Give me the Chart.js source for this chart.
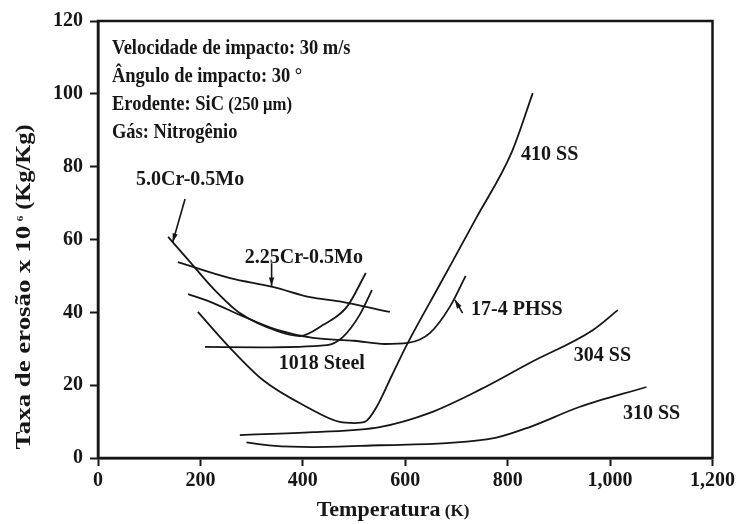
<!DOCTYPE html>
<html>
<head>
<meta charset="utf-8">
<script src="https://cdn.jsdelivr.net/npm/chart.js@4"></script>
<style>
    html, body { margin: 0; padding: 0; background: #fff; }
    #wrap { width: 738px; height: 524px; }
</style>
</head>
<body>
<div id="wrap"><canvas id="erosionChart" width="738" height="524"></canvas></div>
<script>
/**
 * Erosion rate vs. temperature for several steels.
 */

var xTicks = [0, 200, 400, 600, 800, 1000, 1200];
var yTicks = [0, 20, 40, 60, 80, 100, 120];

// temperature (K) / erosion rate (x10^6 Kg/Kg) per alloy
var cr5Temp = [137, 180, 224, 277, 355, 394, 439, 486, 523];
var cr5Rate = [60.7, 53.8, 46.7, 39.8, 34.6, 33.5, 36.5, 41.5, 50.8];

var cr225Temp = [156, 258, 341, 414, 472, 570];
var cr225Rate = [53.8, 49.4, 47.0, 44.2, 43.0, 40.1];

var ph174Temp = [176, 224, 277, 350, 420, 500, 560, 605, 648, 687, 718];
var ph174Rate = [45.0, 42.6, 39.3, 35.2, 33.0, 32.2, 31.3, 31.6, 34.3, 41.5, 50.0];

var st1018Temp = [209, 316, 447, 478, 511, 535];
var st1018Rate = [30.5, 30.4, 31.0, 33.2, 39.3, 46.1];

var ss410Temp = [195, 258, 322, 408, 472, 501, 521, 544, 575, 605, 667, 739, 808, 849];
var ss410Rate = [40.1, 30.2, 21.4, 14.0, 9.9, 9.6, 9.9, 14.0, 23.0, 31.6, 47.5, 66.0, 84.0, 100.2];

var ss304Temp = [277, 420, 550, 648, 745, 843, 966, 1015];
var ss304Rate = [6.3, 7.1, 8.5, 12.4, 18.7, 26.1, 35.1, 40.6];

var ss310Temp = [290, 340, 420, 550, 681, 778, 843, 940, 1071];
var ss310Rate = [4.3, 3.4, 3.0, 3.5, 4.1, 5.6, 8.5, 14.0, 19.5];

// curve labels: text, temperature, rate (label centre)
var curveLabels = [
    ['5.0Cr-0.5Mo', 180, 76.3],
    ['2.25Cr-0.5Mo', 402, 54.9],
    ['1018 Steel', 437, 25.8],
    ['410 SS', 882, 83.2],
    ['17-4 PHSS', 818, 40.6],
    ['304 SS', 985, 28.0],
    ['310 SS', 1081, 12.1]
];

// pointer arrows: from (T, rate) to (T, rate)
var pointers = [
    [170, 71.1, 146, 59.3],
    [339, 53.5, 339, 47.2],
    [712, 39.8, 697, 43.4]
];

var infoLines = [
    'Velocidade de impacto: 30 m/s',
    'Ângulo de impacto: 30 °',
    'Erodente: SiC',
    'Gás: Nitrogênio'
];

var serif = "'Liberation Serif', 'Times New Roman', serif";
var ink = '#161616';

function pairs(xs, ys) {
    return xs.map((x, i) => ({ x: x, y: ys[i] }));
}

function curve(xs, ys) {
    return {
        data: pairs(xs, ys),
        showLine: true,
        borderColor: ink,
        borderWidth: 1.8,
        pointRadius: 0,
        cubicInterpolationMode: 'monotone',
        fill: false
    };
}

// draws a run of [text, font, dy] pieces left to right
function drawRun(ctx, pieces, x, y) {
    pieces.forEach(p => {
        ctx.font = p[1];
        ctx.fillText(p[0], x, y + (p[2] || 0));
        x += ctx.measureText(p[0]).width;
    });
}

function runWidth(ctx, pieces) {
    var w = 0;
    pieces.forEach(p => {
        ctx.font = p[1];
        w += ctx.measureText(p[0]).width;
    });
    return w;
}

var decorations = {
    id: 'decorations',
    afterDatasetsDraw(chart) {
        var ctx = chart.ctx;
        var area = chart.chartArea;
        var sx = chart.scales.x;
        var sy = chart.scales.y;

        ctx.save();

        // plot frame
        ctx.strokeStyle = ink;
        ctx.lineWidth = 2.5;
        ctx.strokeRect(area.left, area.top, area.right - area.left, area.bottom - area.top);

        ctx.fillStyle = ink;
        ctx.textBaseline = 'alphabetic';

        // conditions box (slightly narrow lettering)
        ctx.textAlign = 'left';
        var bold = 'bold 21px ' + serif;
        var base = [54, 82, 110, 138];
        ctx.save();
        ctx.translate(112, 0);
        ctx.scale(0.88, 1);
        infoLines.forEach((t, i) => {
            if (i === 2) {
                drawRun(ctx, [[t, bold], [' (250 μm)', 'bold 19px ' + serif]], 0, base[i]);
            } else {
                drawRun(ctx, [[t, bold]], 0, base[i]);
            }
        });
        ctx.restore();

        // curve labels
        ctx.font = 'bold 20px ' + serif;
        ctx.textAlign = 'center';
        ctx.textBaseline = 'middle';
        curveLabels.forEach(l => {
            ctx.fillText(l[0], sx.getPixelForValue(l[1]), sy.getPixelForValue(l[2]));
        });

        // arrows
        ctx.lineWidth = 1.6;
        pointers.forEach(p => {
            var x1 = sx.getPixelForValue(p[0]), y1 = sy.getPixelForValue(p[1]);
            var x2 = sx.getPixelForValue(p[2]), y2 = sy.getPixelForValue(p[3]);
            var a = Math.atan2(y2 - y1, x2 - x1);
            ctx.beginPath();
            ctx.moveTo(x1, y1);
            ctx.lineTo(x2, y2);
            ctx.stroke();
            ctx.beginPath();
            ctx.moveTo(x2, y2);
            ctx.lineTo(x2 - 9 * Math.cos(a - 0.3), y2 - 9 * Math.sin(a - 0.3));
            ctx.lineTo(x2 - 9 * Math.cos(a + 0.3), y2 - 9 * Math.sin(a + 0.3));
            ctx.closePath();
            ctx.fill();
        });

        // x axis title
        ctx.textAlign = 'left';
        ctx.textBaseline = 'alphabetic';
        var xTitle = [['Temperatura', 'bold 22px ' + serif], [' (K)', 'bold 17px ' + serif]];
        drawRun(ctx, xTitle, 393 - runWidth(ctx, xTitle) / 2, 516);

        // y axis title, rotated and stretched along its length
        var yTitle = [
            ['Taxa de erosão x 10', 'bold 22px ' + serif],
            [' ⁶', 'bold 15px ' + serif, -3],
            [' (Kg/Kg)', 'bold 20px ' + serif]
        ];
        ctx.translate(30, 287);
        ctx.rotate(-Math.PI / 2);
        ctx.scale(1.22, 1);
        drawRun(ctx, yTitle, -runWidth(ctx, yTitle) / 2, 0);

        ctx.restore();
    }
};

var ctx = document.getElementById('erosionChart').getContext('2d');

var chart = new Chart(ctx, {
    type: 'scatter',

    data: {
        datasets: [
            curve(cr5Temp, cr5Rate),
            curve(cr225Temp, cr225Rate),
            curve(ph174Temp, ph174Rate),
            curve(st1018Temp, st1018Rate),
            curve(ss410Temp, ss410Rate),
            curve(ss304Temp, ss304Rate),
            curve(ss310Temp, ss310Rate)
        ]
    },

    options: {
        responsive: false,
        animation: false,
        layout: { padding: { left: 0, right: 25, top: 21, bottom: 0 } },
        plugins: {
            legend: { display: false },
            tooltip: { enabled: false }
        },
        scales: {
            x: {
                type: 'linear',
                min: 0,
                max: 1200,
                afterBuildTicks: s => { s.ticks = xTicks.map(v => ({ value: v })); },
                afterFit: s => { s.height = 66; },
                grid: { drawOnChartArea: false, tickLength: 8, tickColor: ink, tickWidth: 2 },
                border: { color: ink, width: 2.5 },
                ticks: {
                    color: ink,
                    padding: 3,
                    maxRotation: 0,
                    font: { family: serif, size: 20, weight: 'bold' },
                    callback: v => v.toLocaleString('en-US')
                }
            },
            y: {
                min: 0,
                max: 120,
                afterBuildTicks: s => { s.ticks = yTicks.map(v => ({ value: v })); },
                afterFit: s => { s.width = 98; },
                grid: { drawOnChartArea: false, tickLength: 8, tickColor: ink, tickWidth: 2 },
                border: { color: ink, width: 2.5 },
                ticks: {
                    color: ink,
                    padding: 7,
                    font: { family: serif, size: 20, weight: 'bold' }
                }
            }
        }
    },

    plugins: [decorations]
});
</script>
</body>
</html>
